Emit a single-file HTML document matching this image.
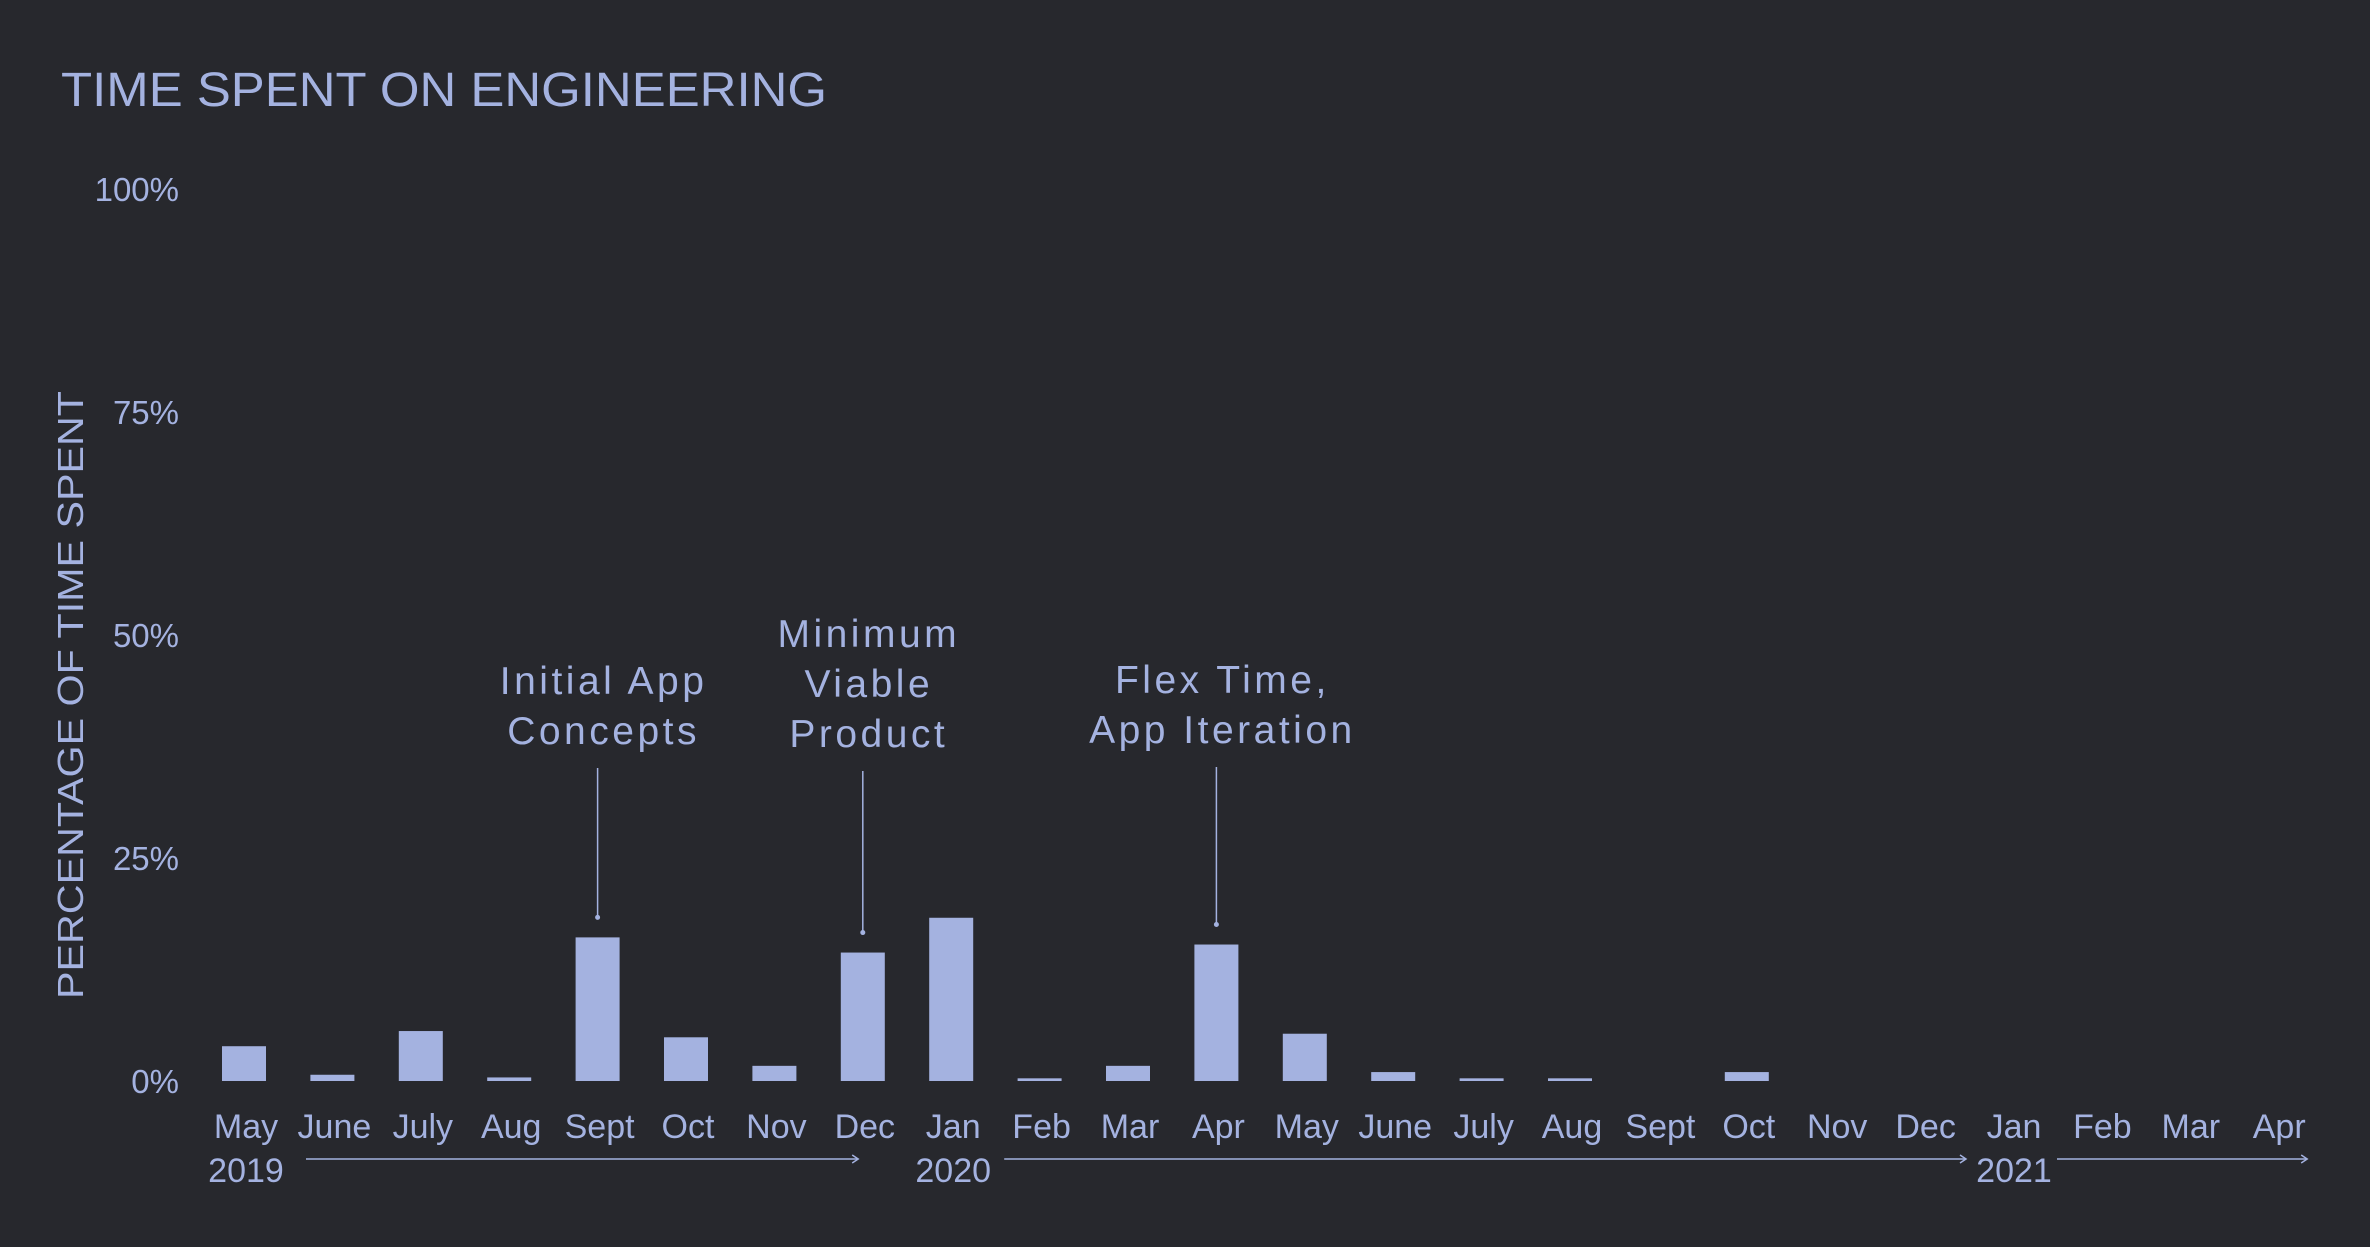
<!DOCTYPE html>
<html><head><meta charset="utf-8"><style>
html,body{margin:0;padding:0;background:#27282d;}
svg{display:block;}
text{font-family:"Liberation Sans",sans-serif;fill:#a4b2e0;}
</style></head><body>
<svg id="chart" width="2370" height="1247" viewBox="0 0 2370 1247" xmlns="http://www.w3.org/2000/svg">
<rect width="2370" height="1247" fill="#27282d"/>
<text x="61" y="106" font-size="48" textLength="766" lengthAdjust="spacingAndGlyphs">TIME SPENT ON ENGINEERING</text>
<text transform="translate(83,695) rotate(-90)" text-anchor="middle" font-size="36" textLength="608" lengthAdjust="spacingAndGlyphs">PERCENTAGE OF TIME SPENT</text>
<g id="yticks"></g><g id="bars"></g><g id="xlabels"></g><g id="years"></g><g id="notes"></g>
</svg>
<script>
const months = ["May","June","July","Aug","Sept","Oct","Nov","Dec","Jan","Feb","Mar","Apr","May","June","July","Aug","Sept","Oct","Nov","Dec","Jan","Feb","Mar","Apr"];
const values = [3.9,0.7,5.6,0.4,16.1,4.9,1.7,14.4,18.3,0.3,1.7,15.3,5.3,1.0,0.3,0.3,0,1.0,0,0,0,0,0,0];
const yTicks = [0,25,50,75,100];
const yTickLabels = ["0%","25%","50%","75%","100%"];
const years = [{label:"2019",index:0},{label:"2020",index:8},{label:"2021",index:20}];
const notes = [{lines:["Initial App","Concepts"],index:4,top:680},{lines:["Minimum","Viable","Product"],index:7,top:633},{lines:["Flex Time,","App Iteration"],index:11,top:679}];

const NS="http://www.w3.org/2000/svg";
const y0=1081, y100=189;
const yScale=v=>y0-(y0-y100)*v/100;
const x0=244, step=88.4, bw=44;
const xScale=i=>x0+i*step;
const col="#a4b2e0";
const arrowStartGap=[62,53,45];
const arrowEndGap=[93,46,-30];
function mk(tag,attrs,parent,txt){const e=document.createElementNS(NS,tag);for(const k in attrs)e.setAttribute(k,attrs[k]);if(txt!==undefined)e.textContent=txt;parent.appendChild(e);return e;}

const yt=document.getElementById('yticks');
yTicks.forEach((t,i)=>{
  const e=mk('text',{x:179,y:yScale(t)+12,'text-anchor':'end','font-size':33},yt,yTickLabels[i]);
  
  
});
const bg=document.getElementById('bars');
values.forEach((v,i)=>{
  const h=y0-yScale(v);
  const r=mk('rect',{x:xScale(i)-bw/2,y:yScale(v),width:bw,height:h,fill:col},bg);
  
  
});
const xl=document.getElementById('xlabels');
months.forEach((m,i)=>{
  const e=mk('text',{x:xScale(i)+2,y:1138,'text-anchor':'middle','font-size':34},xl,m);
  
  
});
const yg=document.getElementById('years');
years.forEach((y,k)=>{
  const e=mk('text',{x:xScale(y.index)+2,y:1182,'text-anchor':'middle','font-size':34},yg,y.label);
  
  
  const start=xScale(y.index)+arrowStartGap[k];
  const end=k<years.length-1?xScale(years[k+1].index)-arrowEndGap[k]:xScale(months.length-1)-arrowEndGap[k];
  const l=mk('line',{x1:start,y1:1159,x2:end,y2:1159,stroke:col,'stroke-width':1.5},yg);
  
  
  const p=mk('path',{d:`M${end-6},${1155} L${end},${1159} L${end-6},${1163}`,fill:'none',stroke:col,'stroke-width':1.5},yg);
  
  
});
const ng=document.getElementById('notes');
notes.forEach(n=>{
  const cx=xScale(n.index);
  n.lines.forEach((ln,j)=>{
    const e=mk('text',{x:cx+6,y:n.top+14+j*50,'text-anchor':'middle','font-size':39,'letter-spacing':'3.5'},ng,ln);
    
    
  });
  const ly1=n.top+n.lines.length*50-12;
  const ly2=yScale(values[n.index])-20;
  const l=mk('line',{x1:cx,y1:ly1,x2:cx,y2:ly2,stroke:col,'stroke-width':1.5},ng);
  
  
  const d=mk('circle',{cx:cx,cy:ly2,r:2.5,fill:col},ng);
  
  
});
</script>
</body></html>
